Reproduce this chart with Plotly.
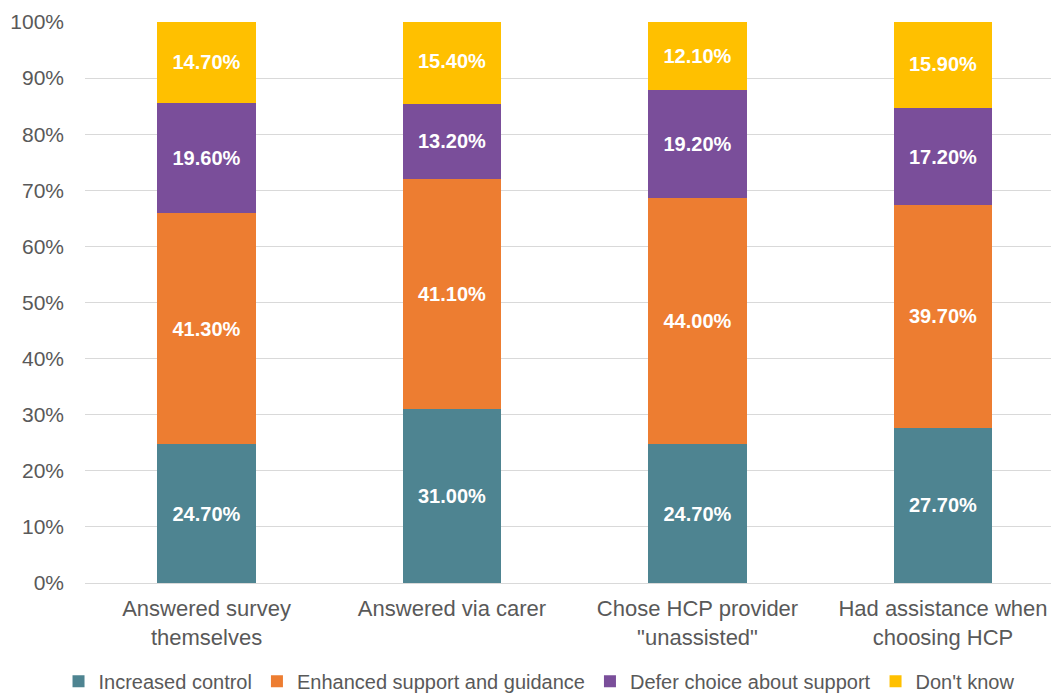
import plotly.graph_objects as go

categories = ["Answered survey<br>themselves", "Answered via carer",
              "Chose HCP provider<br>\"unassisted\"", "Had assistance when<br>choosing HCP"]
increased_control = [24.7, 31.0, 24.7, 27.7]
enhanced_support = [41.3, 41.1, 44.0, 39.7]
defer_choice = [19.6, 13.2, 19.2, 17.2]
dont_know = [14.7, 15.4, 12.1, 15.9]

series = [
    ("Increased control", increased_control, "#4E8491"),
    ("Enhanced support and guidance", enhanced_support, "#ED7D31"),
    ("Defer choice about support", defer_choice, "#7A4E9A"),
    ("Don't know", dont_know, "#FFC000"),
]

fig = go.Figure()
for name, vals, color in series:
    fig.add_trace(go.Bar(
        x=categories, y=vals, name=name,
        marker=dict(color=color, line=dict(width=0)),
        text=[f"{v:.2f}%" for v in vals],
        textposition="inside", insidetextanchor="middle",
        textangle=0, constraintext="none",
        textfont=dict(family="Liberation Sans, Arial", size=20, color="white", weight="bold"),
    ))

fig.update_layout(
    barmode="stack", bargap=0.6,
    width=1051, height=695,
    margin=dict(l=85, r=0, t=22, b=112, autoexpand=False),
    plot_bgcolor="white", paper_bgcolor="white",
    font=dict(family="Liberation Sans, Arial", size=21, color="#595959"),
    showlegend=True,
    legend=dict(orientation="h", x=0.47, xanchor="center", y=-0.175, yanchor="middle",
                font=dict(size=20, color="#595959"), itemwidth=30, tracegroupgap=0,
                traceorder="normal"),
    yaxis=dict(range=[0, 100], dtick=10, ticksuffix="%", showgrid=True,
               gridcolor="#D9D9D9", gridwidth=1, zeroline=False,
               showline=False, ticklabelstandoff=20,
               tickfont=dict(size=21, color="#595959")),
    xaxis=dict(range=[-0.495, 3.44], showline=True, linecolor="#D9D9D9", linewidth=1,
               tickfont=dict(size=22, color="#595959"), ticks="", ticklabelstandoff=6),
)

fig.write_html("out.html")
